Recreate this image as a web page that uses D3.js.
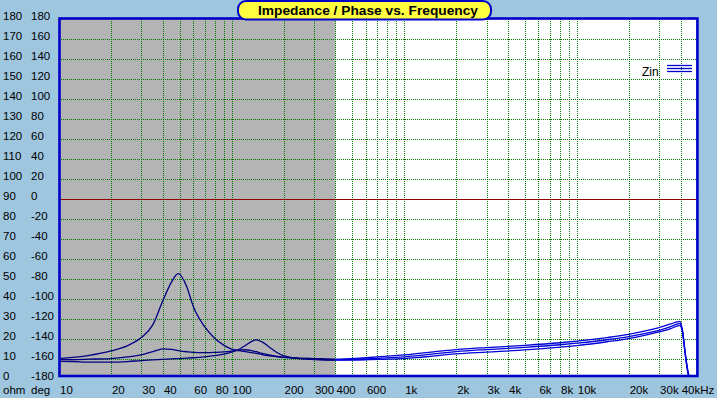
<!DOCTYPE html>
<html><head><meta charset="utf-8">
<script src="https://cdn.jsdelivr.net/npm/d3@7/dist/d3.min.js"></script>
<style>
html,body{margin:0;padding:0;background:#9fc6df;}
svg{display:block;}
text{font-family:"Liberation Sans",Arial,sans-serif;fill:#000;}
</style></head>
<body><svg id="c" width="717" height="398"></svg>
<script>
const freqs = [10, 12, 15, 20, 25, 30, 35, 40, 45, 49, 55, 60, 70, 80, 90, 100, 110, 120, 130, 139, 150, 165, 180, 200, 250, 300, 400, 600, 1000, 2000, 3000, 5000, 8000, 10000, 15000, 20000, 25000, 30000, 35000, 38000, 39500, 41000, 42500, 44000, 45000];
const zinA = [10.0, 10.6, 11.6, 13.8, 16.5, 20.5, 27.0, 39.0, 48.5, 52.5, 46.0, 36.0, 25.8, 20.0, 16.7, 14.7, 14.0, 13.5, 13.0, 12.6, 12.0, 11.4, 11.0, 10.6, 10.2, 10.0, 9.7, 10.4, 11.8, 14.5, 15.5, 16.6, 17.9, 18.7, 20.5, 22.1, 23.8, 25.5, 27.3, 28.3, 28.6, 24.0, 13.0, 4.0, 0];
const zinB = [9.5, 9.5, 9.7, 10.0, 10.8, 11.8, 13.5, 14.8, 14.6, 14.0, 13.4, 13.1, 13.0, 13.1, 13.3, 13.7, 14.2, 14.4, 14.0, 13.4, 12.6, 11.8, 11.2, 10.7, 10.0, 9.7, 9.4, 9.8, 10.8, 13.5, 14.5, 15.6, 16.9, 17.7, 19.4, 21.0, 22.6, 24.1, 26.0, 27.2, 27.6, 23.5, 12.5, 3.5, 0];
const zinC = [8.6, 8.5, 8.2, 8.2, 8.5, 9.0, 9.3, 9.6, 9.8, 10.0, 10.2, 10.4, 10.8, 11.4, 12.2, 13.2, 14.5, 16.5, 18.5, 19.3, 18.3, 15.8, 13.4, 11.4, 9.9, 9.5, 9.2, 9.4, 10.0, 12.3, 13.2, 14.3, 15.7, 16.5, 18.4, 20.0, 21.7, 23.3, 25.0, 26.2, 26.6, 23.0, 12.0, 3.0, 0];
const ohmTicks = d3.range(0, 181, 10);
const degTicks = d3.range(-180, 181, 20);
const freqGrid = [20,30,40,50,60,70,80,90,100,200,300,400,500,600,700,800,900,1000,2000,3000,4000,5000,6000,7000,8000,9000,10000,20000,30000,40000];
const freqLabels = [10,20,30,40,60,80,100,200,300,400,600,1000,2000,3000,4000,6000,8000,10000,20000,30000,40000];
const title = "Impedance / Phase vs. Frequency";
const legendLabel = "Zin";
const shadedUpTo = 400;

const svg = d3.select("#c");
const L = 59, R = 697.4, T = 19, B = 378.5, BB = 376;
const x = d3.scaleLog().domain([10, 50000]).range([L, R]);
const yOhm = d3.scaleLinear().domain([0, 180]).range([B, T]);
const yDeg = d3.scaleLinear().domain([-180, 180]).range([B, T]);

// plot background
svg.append("rect").attr("x", L).attr("y", T).attr("width", R - L).attr("height", BB - T).attr("fill", "#fff");
svg.append("rect").attr("x", L).attr("y", T).attr("width", x(shadedUpTo) - L).attr("height", BB - T).attr("fill", "#b4b4b4");

// grid
const g = svg.append("g").attr("shape-rendering", "crispEdges");
g.selectAll("line.v").data(freqGrid).join("line")
  .attr("x1", d => Math.round(x(d)) + 0.5).attr("x2", d => Math.round(x(d)) + 0.5)
  .attr("y1", T).attr("y2", BB)
  .attr("stroke", "#007800").attr("stroke-dasharray", "1,1");
g.selectAll("line.h").data(degTicks.filter(d => d > -180 && d < 180 && d !== 0)).join("line")
  .attr("x1", L).attr("x2", R)
  .attr("y1", d => Math.round(yDeg(d)) + 0.5).attr("y2", d => Math.round(yDeg(d)) + 0.5)
  .attr("stroke", "#007800").attr("stroke-dasharray", "1,1");
g.append("line").attr("x1", L).attr("x2", R)
  .attr("y1", Math.round(yDeg(0)) + 0.5).attr("y2", Math.round(yDeg(0)) + 0.5)
  .attr("stroke", "#8c0000");

// clips
const defs = svg.append("defs");
defs.append("clipPath").attr("id", "cg").append("rect")
  .attr("x", L).attr("y", T).attr("width", x(shadedUpTo) - L).attr("height", BB - T);
defs.append("clipPath").attr("id", "cw").append("rect")
  .attr("x", x(shadedUpTo)).attr("y", T).attr("width", R - x(shadedUpTo)).attr("height", BB - T);

const series = [zinA, zinB, zinC];
const line = d3.line().x((d, i) => x(freqs[i])).y(d => yOhm(d)).curve(d3.curveMonotoneX);
[["cg", "#000080"], ["cw", "#0000d8"]].forEach(([clip, col]) => {
  svg.append("g").attr("clip-path", `url(#${clip})`)
    .selectAll("path").data(series).join("path")
    .attr("d", line).attr("fill", "none").attr("stroke", col).attr("stroke-width", 1.3);
});

// border
svg.append("rect").attr("x", L + 0.5).attr("y", T - 0.5).attr("width", R - L - 0.5).attr("height", BB - T + 0.5)
  .attr("fill", "none").attr("stroke", "#0000c8").attr("stroke-width", 2.6);

// left labels
const fs = 11.5;
svg.selectAll("text.ohm").data(ohmTicks).join("text")
  .attr("x", 3).attr("y", d => yOhm(d) + 1).attr("font-size", fs).text(d => d);
svg.selectAll("text.deg").data(degTicks).join("text")
  .attr("x", 31).attr("y", d => yDeg(d) + 1).attr("font-size", fs).text(d => d);
svg.append("text").attr("x", 3).attr("y", 394).attr("font-size", fs).text("ohm");
svg.append("text").attr("x", 31).attr("y", 394).attr("font-size", fs).text("deg");

// bottom labels
const fmt = d => d >= 1000 ? (d / 1000) + "k" : String(d);
svg.selectAll("text.f").data(freqLabels).join("text")
  .attr("x", d => x(d) + 1).attr("y", 394).attr("font-size", fs)
  .text((d, i) => fmt(d) + (i === freqLabels.length - 1 ? "Hz" : ""));

// legend
svg.append("text").attr("x", 642).attr("y", 76).attr("font-size", 12).text(legendLabel);
[65.5, 68.5, 71.5].forEach(yy => {
  svg.append("line").attr("x1", 667).attr("x2", 692).attr("y1", yy).attr("y2", yy)
    .attr("stroke", "#0000d0").attr("stroke-width", 1.3);
});

// title
svg.append("rect").attr("x", 238).attr("y", 1).attr("width", 253).attr("height", 18.5).attr("rx", 8).attr("ry", 8)
  .attr("fill", "#ffff40").attr("stroke", "#0000c8").attr("stroke-width", 2);
svg.append("text").attr("x", 368).attr("y", 15).attr("text-anchor", "middle")
  .attr("font-size", 13).attr("font-weight", "bold").attr("textLength", 220).attr("lengthAdjust", "spacingAndGlyphs").text(title);
</script></body></html>
